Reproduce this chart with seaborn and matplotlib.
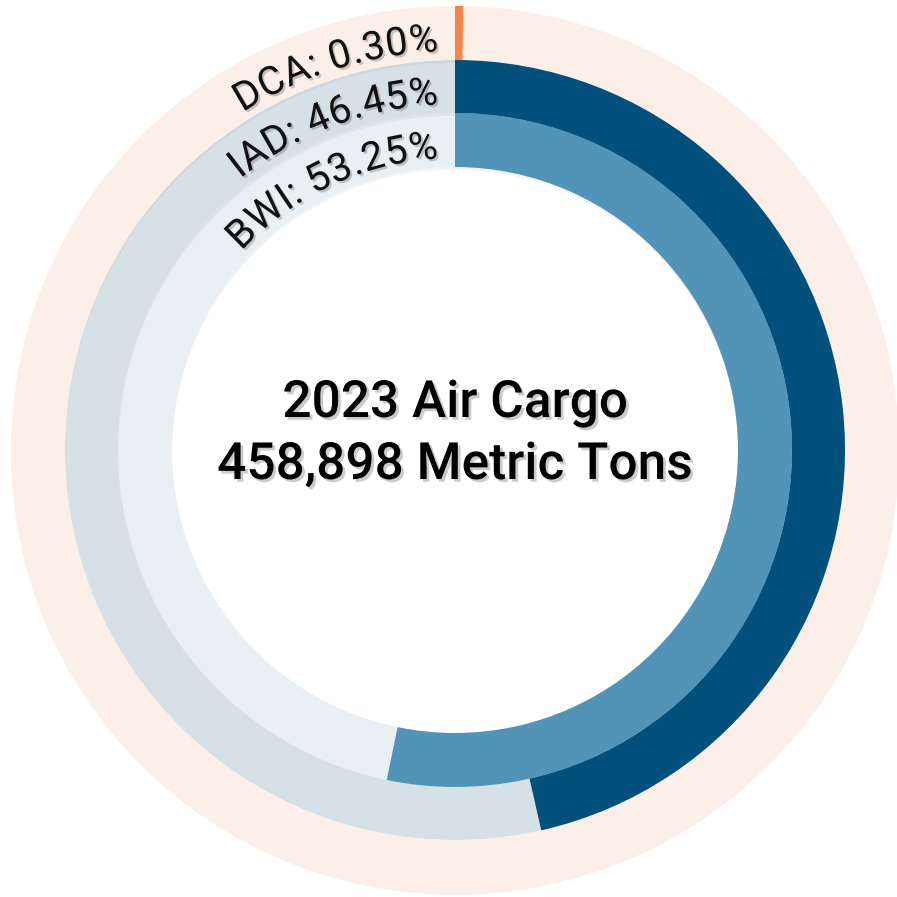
import numpy as np
import matplotlib
matplotlib.use("Agg")
import matplotlib.pyplot as plt
import seaborn as sns
from matplotlib import patheffects as pe
from matplotlib import font_manager
from matplotlib.ft2font import LOAD_NO_HINTING

# ---- data ----
airports = ["BWI", "IAD", "DCA"]          # inner -> outer
shares = [53.25, 46.45, 0.30]             # percent of total
bar_colors = ["#5294B7", "#03507D", "#F5844B"]
track_colors = ["#E8F0F4", "#D6E0E7", "#FCEFE8"]
title_lines = ["2023 Air Cargo", "458,898 Metric Tons"]

sns.set_theme(style="white")
plt.rcParams['font.family'] = ['Roboto', 'DejaVu Sans']

W = 897
fig = plt.figure(figsize=(W / 100, W / 100), dpi=100)
fig.patch.set_facecolor("white")
cx, cy, R = 455, 450, 445
ax = fig.add_axes([(cx - R) / W, (W - cy - R) / W, 2 * R / W, 2 * R / W],
                  projection="polar")
ax.set_theta_zero_location("N")
ax.set_theta_direction(-1)
ax.set_ylim(0, R)
ax.set_axis_off()

inner = [283, 337, 390]
outer = [337, 390, 444]

for i, name in enumerate(airports):
    h = outer[i] - inner[i]
    ax.bar(0, h, width=2 * np.pi, bottom=inner[i], align="edge",
           color=track_colors[i], linewidth=0, zorder=1 + i * 0.01,
           path_effects=[pe.SimplePatchShadow(offset=(0, -2), alpha=0.06), pe.Normal()])
for i, name in enumerate(airports):
    h = outer[i] - inner[i]
    ax.bar(0, h, width=shares[i] / 100 * 2 * np.pi, bottom=inner[i], align="edge",
           color=bar_colors[i], linewidth=0, zorder=2)

# ---- curved labels ----
label_size = 28.5
tracking = 0.5
fp = font_manager.FontProperties(family=['Roboto'], size=label_size)
font = font_manager.get_font(font_manager.findfont(fp))
font.set_size(label_size, 100)

def adv(c):
    g = font.load_char(ord(c), flags=LOAD_NO_HINTING)
    return g.linearHoriAdvance / 65536.0 + tracking

shadow = [pe.SimplePatchShadow(offset=(1.5, -1.5), alpha=0.3, shadow_rgbFace="#555555"), pe.Normal()]

for i, name in enumerate(airports):
    label = f"{name}: {shares[i]:.2f}%"
    rb = inner[i] + 9
    widths = [adv(c) for c in label]
    total = sum(widths)
    gap = 16
    th_end = -gap / rb
    th_start = th_end - total / rb
    s = 0.0
    for c, w in zip(label, widths):
        th = th_start + (s + w / 2) / rb
        s += w
        if c == " ":
            continue
        ax.text(th, rb, c, fontsize=label_size, color="#111111",
                ha="center", va="baseline", rotation=-np.degrees(th),
                rotation_mode="anchor", zorder=5, path_effects=shadow)

# ---- center title ----
title_shadow = [pe.SimplePatchShadow(offset=(2, -2), alpha=0.3, shadow_rgbFace="#555555"), pe.Normal()]
ax.text(0.5, 0.5 + 47 / (2 * R), title_lines[0], transform=ax.transAxes,
        fontsize=37, fontweight="medium", ha="center", va="center", color="#000000",
        path_effects=title_shadow, zorder=6)
ax.text(0.5, 0.5 - 15 / (2 * R), title_lines[1], transform=ax.transAxes,
        fontsize=37, fontweight="medium", ha="center", va="center", color="#000000",
        path_effects=title_shadow, zorder=6)

fig.savefig("out.png", dpi=100, facecolor="white")
